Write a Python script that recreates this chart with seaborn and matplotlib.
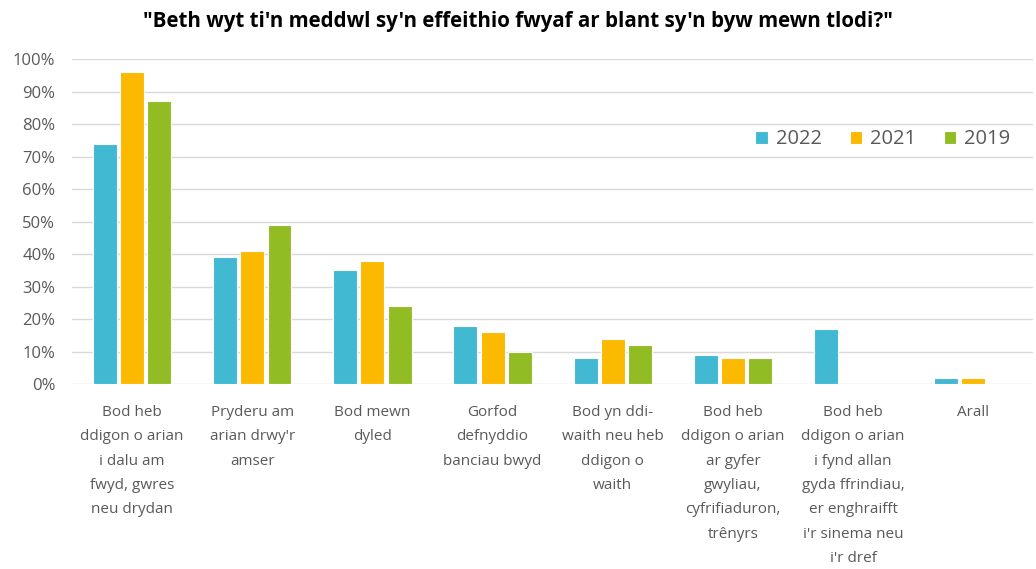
import pandas as pd
import matplotlib.pyplot as plt
import seaborn as sns
from matplotlib.ticker import PercentFormatter

sns.set_theme(style="white")
plt.rcParams['font.family'] = ['Open Sans', 'DejaVu Sans']

# Data (percentages)
categories = [
    "Bod heb\nddigon o arian\ni dalu am\nfwyd, gwres\nneu drydan",
    "Pryderu am\narian drwy'r\namser",
    "Bod mewn\ndyled",
    "Gorfod\ndefnyddio\nbanciau bwyd",
    "Bod yn ddi-\nwaith neu heb\nddigon o\nwaith",
    "Bod heb\nddigon o arian\nar gyfer\ngwyliau,\ncyfrifiaduron,\ntrênyrs",
    "Bod heb\nddigon o arian\ni fynd allan\ngyda ffrindiau,\ner enghraifft\ni'r sinema neu\ni'r dref",
    "Arall",
]
years = ["2022", "2021", "2019"]
vals_2022 = [74, 39, 35, 18, 8, 9, 17, 2]
vals_2021 = [96, 41, 38, 16, 14, 8, 0, 2]
vals_2019 = [87, 49, 24, 10, 12, 8, 0, 0]
colors = ["#41B9D3", "#FBB900", "#92BC24"]

df = pd.DataFrame({
    "category": categories * 3,
    "year": ["2022"] * 8 + ["2021"] * 8 + ["2019"] * 8,
    "value": vals_2022 + vals_2021 + vals_2019,
})

fig = plt.figure(figsize=(10.36, 5.69), dpi=100)
ax = fig.add_axes([0.0695, 0.325, 0.928, 0.571])

sns.barplot(data=df, x="category", y="value", hue="year", hue_order=years,
            palette=colors, width=0.68, gap=0.12, edgecolor="white",
            linewidth=0.8, saturation=1, ax=ax)

ax.set_ylim(0, 100)
ax.set_yticks(range(0, 101, 10))
ax.yaxis.set_major_formatter(PercentFormatter(decimals=0))
ax.grid(axis="y", color="#D9D9D9", linewidth=1)
ax.set_axisbelow(True)
for s in ax.spines.values():
    s.set_visible(False)
ax.set_xlabel("")
ax.set_ylabel("")
ax.tick_params(axis="y", labelsize=12, colors="#595959", length=0, pad=12)
ax.tick_params(axis="x", labelsize=11, colors="#595959", length=0, pad=15)
for t in ax.get_xticklabels():
    t.set_linespacing(1.85)
    t.set_verticalalignment("top")

ax.legend(loc="upper right", bbox_to_anchor=(0.995, 0.84), ncol=3, frameon=False,
          fontsize=14.5, handlelength=0.6, handleheight=0.6, handletextpad=0.4,
          columnspacing=1.4, labelcolor="#595959")

fig.suptitle("\"Beth wyt ti'n meddwl sy'n effeithio fwyaf ar blant sy'n byw mewn tlodi?\"",
             x=0.5, y=0.98, fontsize=14.8, fontweight="bold", color="black")

fig.savefig("out.png", dpi=100)
